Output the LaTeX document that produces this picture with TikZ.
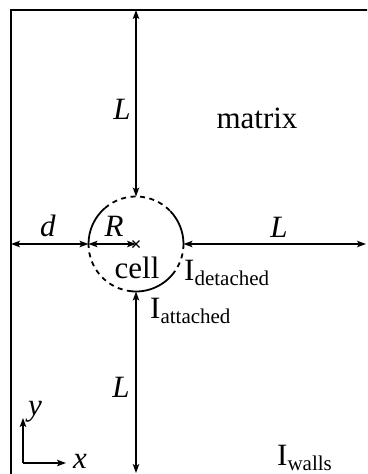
\documentclass[tikz,border=0pt]{standalone}
\usepackage{fontspec}
\setmainfont{Liberation Serif}
\usetikzlibrary{arrows.meta}
\newcommand{\lowsub}[1]{\raisebox{-5.5pt}{\fontsize{21}{21}\selectfont #1}}
\begin{document}
\begin{tikzpicture}[x=1pt,y=-1pt,
  lab/.style={font=\fontsize{31}{31}\selectfont, inner sep=0pt},
  dim/.style={line width=1.2pt, {Stealth[length=9pt,width=6.5pt,inset=2pt]}-{Stealth[length=9pt,width=6.5pt,inset=2pt]}},
  ax/.style={line width=1.2pt, -{Stealth[length=9pt,width=6.5pt,inset=2pt]}},
  solidarc/.style={line width=1.8pt},
  dasharc/.style={line width=1.8pt, dash pattern=on 5pt off 4.5pt},
  framestyle/.style={line width=2pt}]
\useasboundingbox (0,0) rectangle (367,474);
\clip (0,0) rectangle (367,474);
% frame
\coordinate (FBL) at (11,480);
\coordinate (FTL) at (11,10);
\coordinate (FTR) at (372,10);
\draw[framestyle] (FBL) -- (FTL) -- (FTR);
% key points
\def\R{47.5}
\coordinate (C) at (136,244);
\coordinate (W) at (88.5,244);
\coordinate (E) at (183.5,244);
\coordinate (N) at (136,196.5);
\coordinate (S) at (136,291.5);
\coordinate (FL) at (11,244);
\coordinate (FR) at (366,244);
\coordinate (FT) at (136,10);
\coordinate (FB) at (136,473);
% cell boundary
\draw[solidarc] ([shift={(C)}]-180:\R) arc[start angle=-180, end angle=-131, radius=\R];
\draw[solidarc] ([shift={(C)}]0:\R) arc[start angle=0, end angle=-44, radius=\R];
\draw[solidarc] ([shift={(C)}]36:\R) arc[start angle=36, end angle=95, radius=\R];
\draw[dasharc] ([shift={(C)}]-131:\R) arc[start angle=-131, end angle=-44, radius=\R];
\draw[dasharc] ([shift={(C)}]95:\R) arc[start angle=95, end angle=180, radius=\R];
\draw[dasharc] ([shift={(C)}]0:\R) arc[start angle=0, end angle=36, radius=\R];
% centre cross
\draw[line width=1.3pt] ([shift={(-3.5,-3.5)}]C) -- ([shift={(3.5,3.5)}]C) ([shift={(-3.5,3.5)}]C) -- ([shift={(3.5,-3.5)}]C);
% dimension arrows
\draw[dim] (FL) -- (W);
\draw[dim] (W) -- (C);
\draw[dim] (E) -- (FR);
\draw[dim] (FT) -- (N);
\draw[dim] (S) -- (FB);
% labels
\node[lab] (Ltop) at (122,109) {\textit{L}};
\node[lab] (matrix) at (257,118) {matrix};
\node[lab] (d) at (48,226) {\textit{d}};
\node[lab] (R) at (114,226) {\textit{R}};
\node[lab] (Lright) at (279,227) {\textit{L}};
\node[lab, anchor=base] (cell) at (137,278) {cell};
\node[lab, anchor=base west] (idet) at (184,280) {I\lowsub{detached}};
\node[lab, anchor=base west] (iatt) at (150,318) {I\lowsub{attached}};
\node[lab] (Lbot) at (121,387) {\textit{L}};
\node[lab, anchor=base west] (iwall) at (277,465) {I\lowsub{walls}};
% axes
\coordinate (O) at (23,463);
\coordinate (Yt) at (23,418);
\coordinate (Xt) at (66,463);
\draw[ax] (O) -- (Yt);
\draw[ax] (O) -- (Xt);
\node[lab, anchor=base west] (xl) at (73,468) {\textit{x}};
\node[lab] (yl) at (35,412) {\textit{y}};
\end{tikzpicture}
\end{document}
